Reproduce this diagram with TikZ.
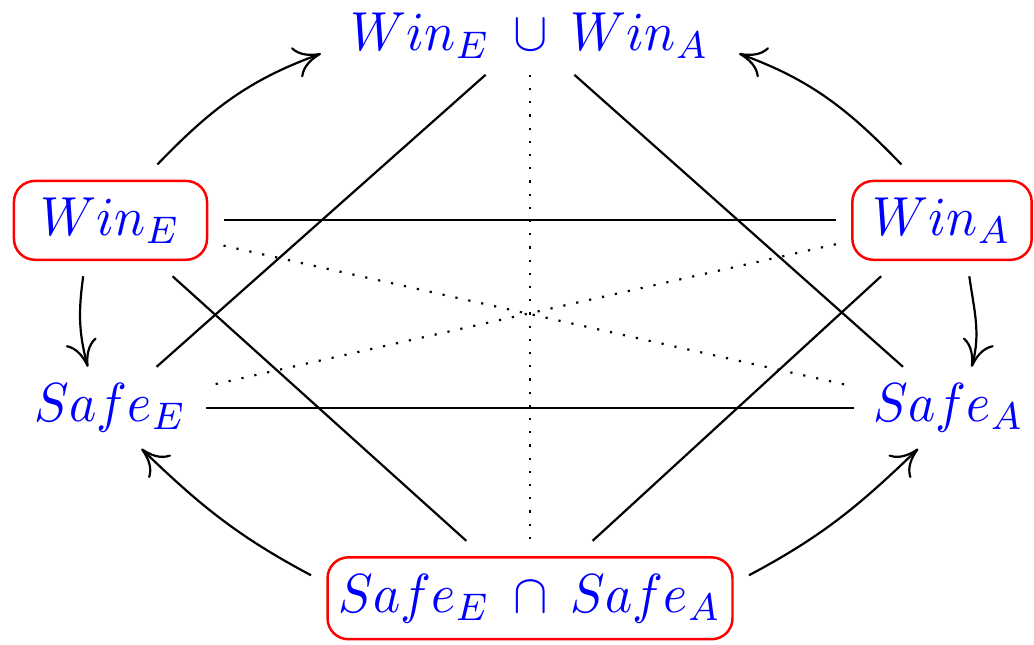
\documentclass[tikz,border=0pt]{standalone}
\usepackage{graphicx}
\usetikzlibrary{arrows.meta}
\newcommand{\sq}[1]{\scalebox{0.94}[1]{$#1$}}
\begin{document}
\begin{tikzpicture}[x=0.181818pt,y=-0.181818pt,
  txt/.style={text=blue,inner xsep=3.6pt,inner ysep=3pt,outer sep=0pt,anchor=base},
  boxed/.style={draw=red,line width=0.45pt,rounded corners=3.8pt,text=blue,inner xsep=2pt,inner ysep=3pt,outer sep=3pt,anchor=base},
  arr/.style={-{Computer Modern Rightarrow[length=4.8pt,width=5.8pt]}},
  dotl/.style={dotted}]
\useasboundingbox (0,0) rectangle (1034,644);
\node[txt,inner xsep=5.4pt] (T) at (530,50) {\sq{Win_E\mskip4mu\cup\mskip4mu Win_A}};
\node[boxed,minimum width=35.1pt] (WE) at (110.5,235) {\sq{Win_E}};
\node[boxed,minimum width=32.6pt] (WA) at (942,235) {\sq{Win_A}};
\node[txt] (SE) at (110.5,421.5) {\sq{Safe_E}};
\node[txt] (SA) at (949,421.5) {\sq{Safe_A}};
\node[boxed,minimum width=72.7pt] (B) at (530,612) {\sq{Safe_E\mskip4mu\cap\mskip4mu Safe_A}};
% solid lines
\draw (WE) -- (WA);
\draw (SE) -- (SA);
\draw (T) -- (SE);
\draw (T) -- (SA);
\draw (WE) -- (B);
\draw (WA) -- (B);
% dotted lines
\draw[dotl] (T) -- (B);
\draw[dotl] (WE) -- (SA);
\draw[dotl] (WA) -- (SE);
% arrows
\draw[arr] (WE.50) to[out=46,in=200] (T.185);
\draw[arr] (WA.126) to[out=134,in=340] (T.355);
\draw[arr] (WE.244) to[out=262,in=105] (SE.119);
\draw[arr] (WA.296) to[out=278,in=75] (SA.61);
\draw[arr] (B.174) to[out=152,in=316] (SE.307);
\draw[arr] (B.6) to[out=28,in=224] (SA.233);
\end{tikzpicture}
\end{document}
